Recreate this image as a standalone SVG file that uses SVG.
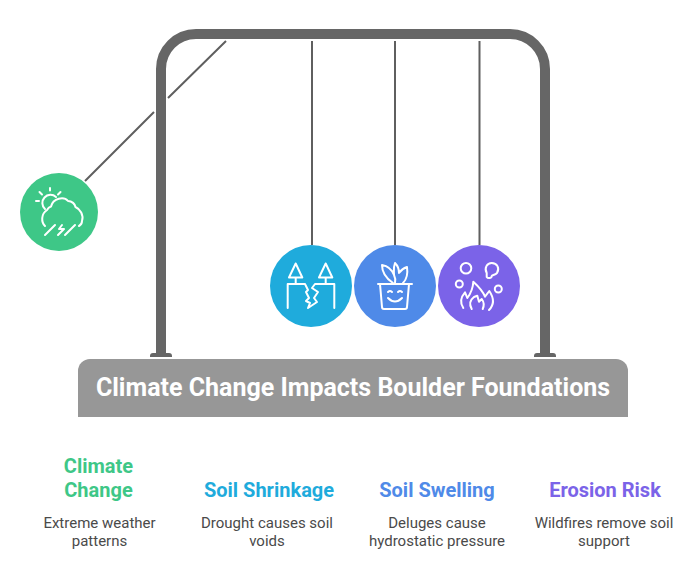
<svg xmlns="http://www.w3.org/2000/svg" width="695" height="562" viewBox="0 0 695 562">
<style>
.wire{stroke:#5f5f5f;stroke-width:2;fill:none}
.ic{fill:none;stroke:#fff;stroke-width:2;stroke-linecap:round;stroke-linejoin:round}
text{font-family:Roboto,"Liberation Sans",sans-serif;text-anchor:middle}
.h{font-size:20px;font-weight:700}
.d{font-size:15px;fill:#4a4a4a}
</style>
<rect width="695" height="562" fill="#fff"/>
<g id="connectors">
<path class="wire" d="M226 41L168 98M154 112L85 181M312 41V245M395 41V245M479.500 41V245"/>
</g>
<g id="frame">
<path d="M161 353V69A35 35 0 0 1 196 34H510A35 35 0 0 1 545 69V353" fill="none" stroke="#666" stroke-width="10"/>
<path d="M150 357V356Q150 353 153 353H169Q172 353 172 356V357ZM534 357V356Q534 353 537 353H553Q556 353 556 356V357Z" fill="#666"/>
</g>
<g id="base">
<path d="M78 417V371A12 12 0 0 1 90 359H616A12 12 0 0 1 628 371V417Z" fill="#979797"/>
<text x="353" y="396" font-size="25" font-weight="700" fill="#fff">Climate Change Impacts Boulder Foundations</text>
</g>
<g id="node-climate">
<circle cx="59" cy="212" r="39" fill="#3ec787"/>
<path class="ic" d="M45 209A8 8 0 0 1 56 197M50 188V190.500M39.500 192L42 194.500M60.500 192L58 194.500M36 201H39"/>
<path class="ic" d="M45 226C41 222 41 214 47 210C48 208 49 207 51 206.500C53 198 64 196 68 201C72 201 75 204 75.500 207C80 209 84 215 82 221C82 223 81 225 79 226"/>
<path class="ic" d="M55 225L45 235M75 225L65 235M62 225L59 229H64L58 235"/>
</g>
<g id="node-shrink">
<circle cx="311" cy="286" r="41" fill="#1fabdc"/>
<path class="ic" d="M295.700 263.500L289 277.500H302.300ZM325.700 263.500L319 277.500H332.300ZM295.700 277.500V284M325.700 277.500V284M287.700 308V284H305L308 290L306 292L309 298L306 301L310 303L308 308L317 302L314 298L318 292L312 288L315 284H334.300V308"/>
</g>
<g id="node-swell">
<circle cx="395" cy="286" r="41" fill="#4f8ae8"/>
<path class="ic" d="M378 284H412M380 284L382 307Q382 309 384 309H405Q407 309 407 307L409 284M393 283C387 279 382 274 382 265C388 266 392 270 394 275C394 271 393 268 395 263C398 266 399 269 399 273C401 270 404 268 407 267C408 274 407 279 403 283M394 275Q396 279 395 283M388 292Q390 290 392 292M398 292Q400 290 402 292M388 298Q395 305 402 298"/>
</g>
<g id="node-erosion">
<circle cx="479" cy="286" r="41" fill="#7b63e8"/>
<circle class="ic" cx="466" cy="268.300" r="5.300"/>
<circle class="ic" cx="459.300" cy="284" r="3.500"/>
<circle class="ic" cx="498.300" cy="289" r="3.500"/>
<path class="ic" d="M486.700 273C484 268 487 263 491.700 263C497 263 500 268 497 273C495 275 492 275 491.700 276C492 278 488 279 486.700 277Z"/>
<path class="ic" d="M463.300 308C460 303 460 298 465 292.300L467.300 298C471 293 473 288 473.300 281.700C478 286 483 291 485 296.700L489.300 291C494 298 494 305 489 310M471.700 309C469 304 470 300 474 297L477.300 295.700L479 301.700L481.700 299C484 302 484 306 482.700 309"/>
</g>
<g id="label-climate">
<text class="h" x="98.500" y="473" fill="#3ec787">Climate</text>
<text class="h" x="98.500" y="497" fill="#3ec787">Change</text>
<text class="d" x="99.500" y="528">Extreme weather</text>
<text class="d" x="99.500" y="546">patterns</text>
</g>
<g id="label-shrink">
<text class="h" x="269" y="497" fill="#1fabdc">Soil Shrinkage</text>
<text class="d" x="267" y="528">Drought causes soil</text>
<text class="d" x="267" y="546">voids</text>
</g>
<g id="label-swell">
<text class="h" x="437" y="497" fill="#4f8ae8">Soil Swelling</text>
<text class="d" x="437" y="528">Deluges cause</text>
<text class="d" x="437" y="546">hydrostatic pressure</text>
</g>
<g id="label-erosion">
<text class="h" x="605" y="497" fill="#7b63e8">Erosion Risk</text>
<text class="d" x="604" y="528">Wildfires remove soil</text>
<text class="d" x="604" y="546">support</text>
</g>
</svg>
